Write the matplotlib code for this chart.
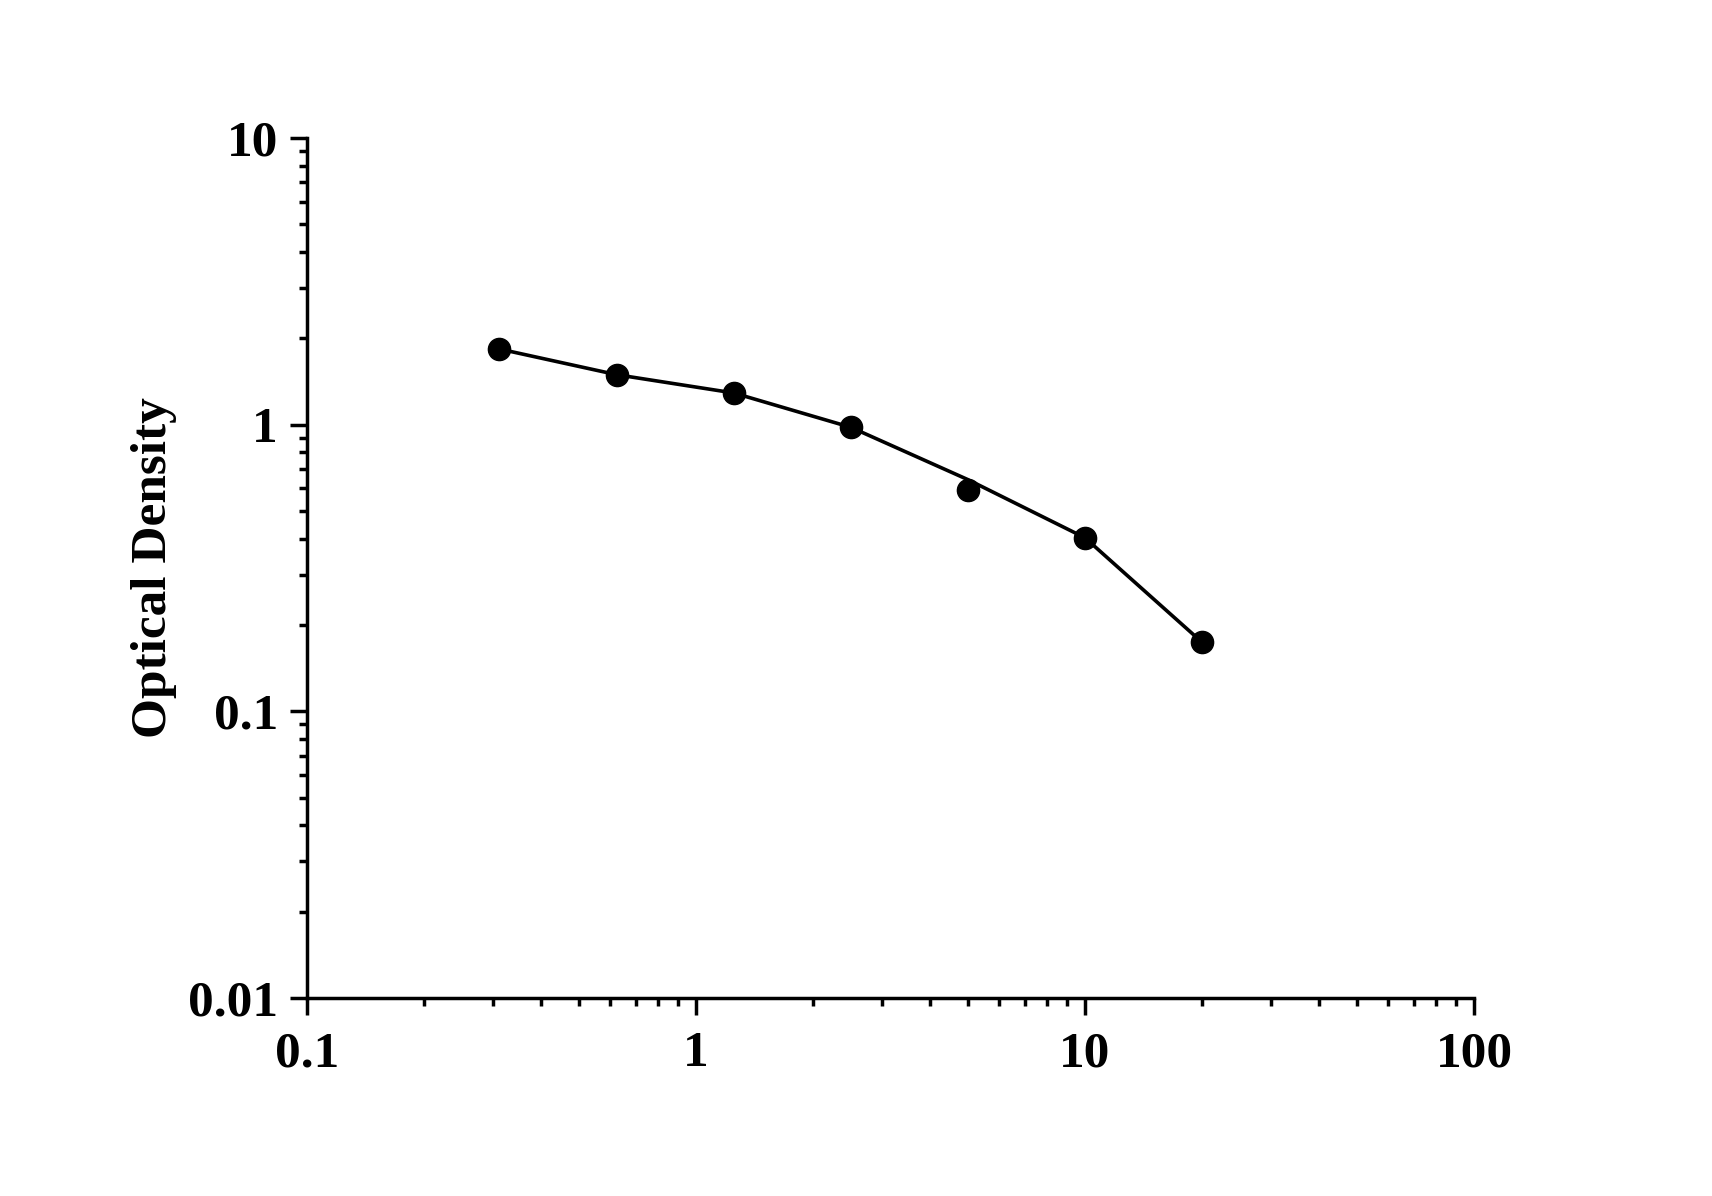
#!/usr/bin/env python3
"""
Standard curve: optical density vs concentration (log-log)
"""

import matplotlib
matplotlib.use("Agg")
import matplotlib.pyplot as plt
from matplotlib.ticker import FixedLocator, FixedFormatter, LogLocator, NullFormatter

# Measured standards
conc = [0.3125, 0.625, 1.25, 2.5, 5, 10, 20]
od = [1.836, 1.494, 1.290, 0.979, 0.593, 0.403, 0.174]

# Fitted curve through the standards
fit_conc = [0.3125, 0.625, 1.25, 2.5, 5, 10, 20]
fit_od = [1.836, 1.494, 1.290, 0.979, 0.643, 0.403, 0.174]

x_ticks = [0.1, 1, 10, 100]
x_labels = ["0.1", "1", "10", "100"]
y_ticks = [0.01, 0.1, 1, 10]
y_labels = ["0.01", "0.1", "1", "10"]

plt.rcParams['font.family'] = ['Liberation Serif', 'DejaVu Serif']
plt.rcParams['font.weight'] = 'bold'

fig = plt.figure(figsize=(17.12, 11.96), dpi=100)
ax = fig.add_axes([0.1793, 0.1656, 0.861 - 0.1793, 0.8846 - 0.1656])

ax.plot(fit_conc, fit_od, color='black', linewidth=2.6, zorder=2)
ax.plot(conc, od, linestyle='none', marker='o', markersize=16,
        color='black', zorder=3, clip_on=False)

ax.set_xscale('log')
ax.set_yscale('log')
ax.set_xlim(0.1, 100)
ax.set_ylim(0.01, 10)

for axis, ticks, labels in ((ax.xaxis, x_ticks, x_labels), (ax.yaxis, y_ticks, y_labels)):
    axis.set_major_locator(FixedLocator(ticks))
    axis.set_major_formatter(FixedFormatter(labels))
    axis.set_minor_locator(LogLocator(base=10, subs=range(2, 10)))
    axis.set_minor_formatter(NullFormatter())

ax.spines['top'].set_visible(False)
ax.spines['right'].set_visible(False)
for side in ('left', 'bottom'):
    ax.spines[side].set_linewidth(2.5)

ax.tick_params(which='major', direction='out', length=12, width=2.5,
               labelsize=37, pad=9)
ax.tick_params(which='minor', direction='out', length=6, width=2.5)
ax.tick_params(axis='x', which='major', pad=12)

for lbl in ax.get_xticklabels() + ax.get_yticklabels():
    lbl.set_fontweight('bold')

ax.set_ylabel('Optical Density', fontsize=37, fontweight='bold', labelpad=8)

fig.savefig('out.png', dpi=100)
